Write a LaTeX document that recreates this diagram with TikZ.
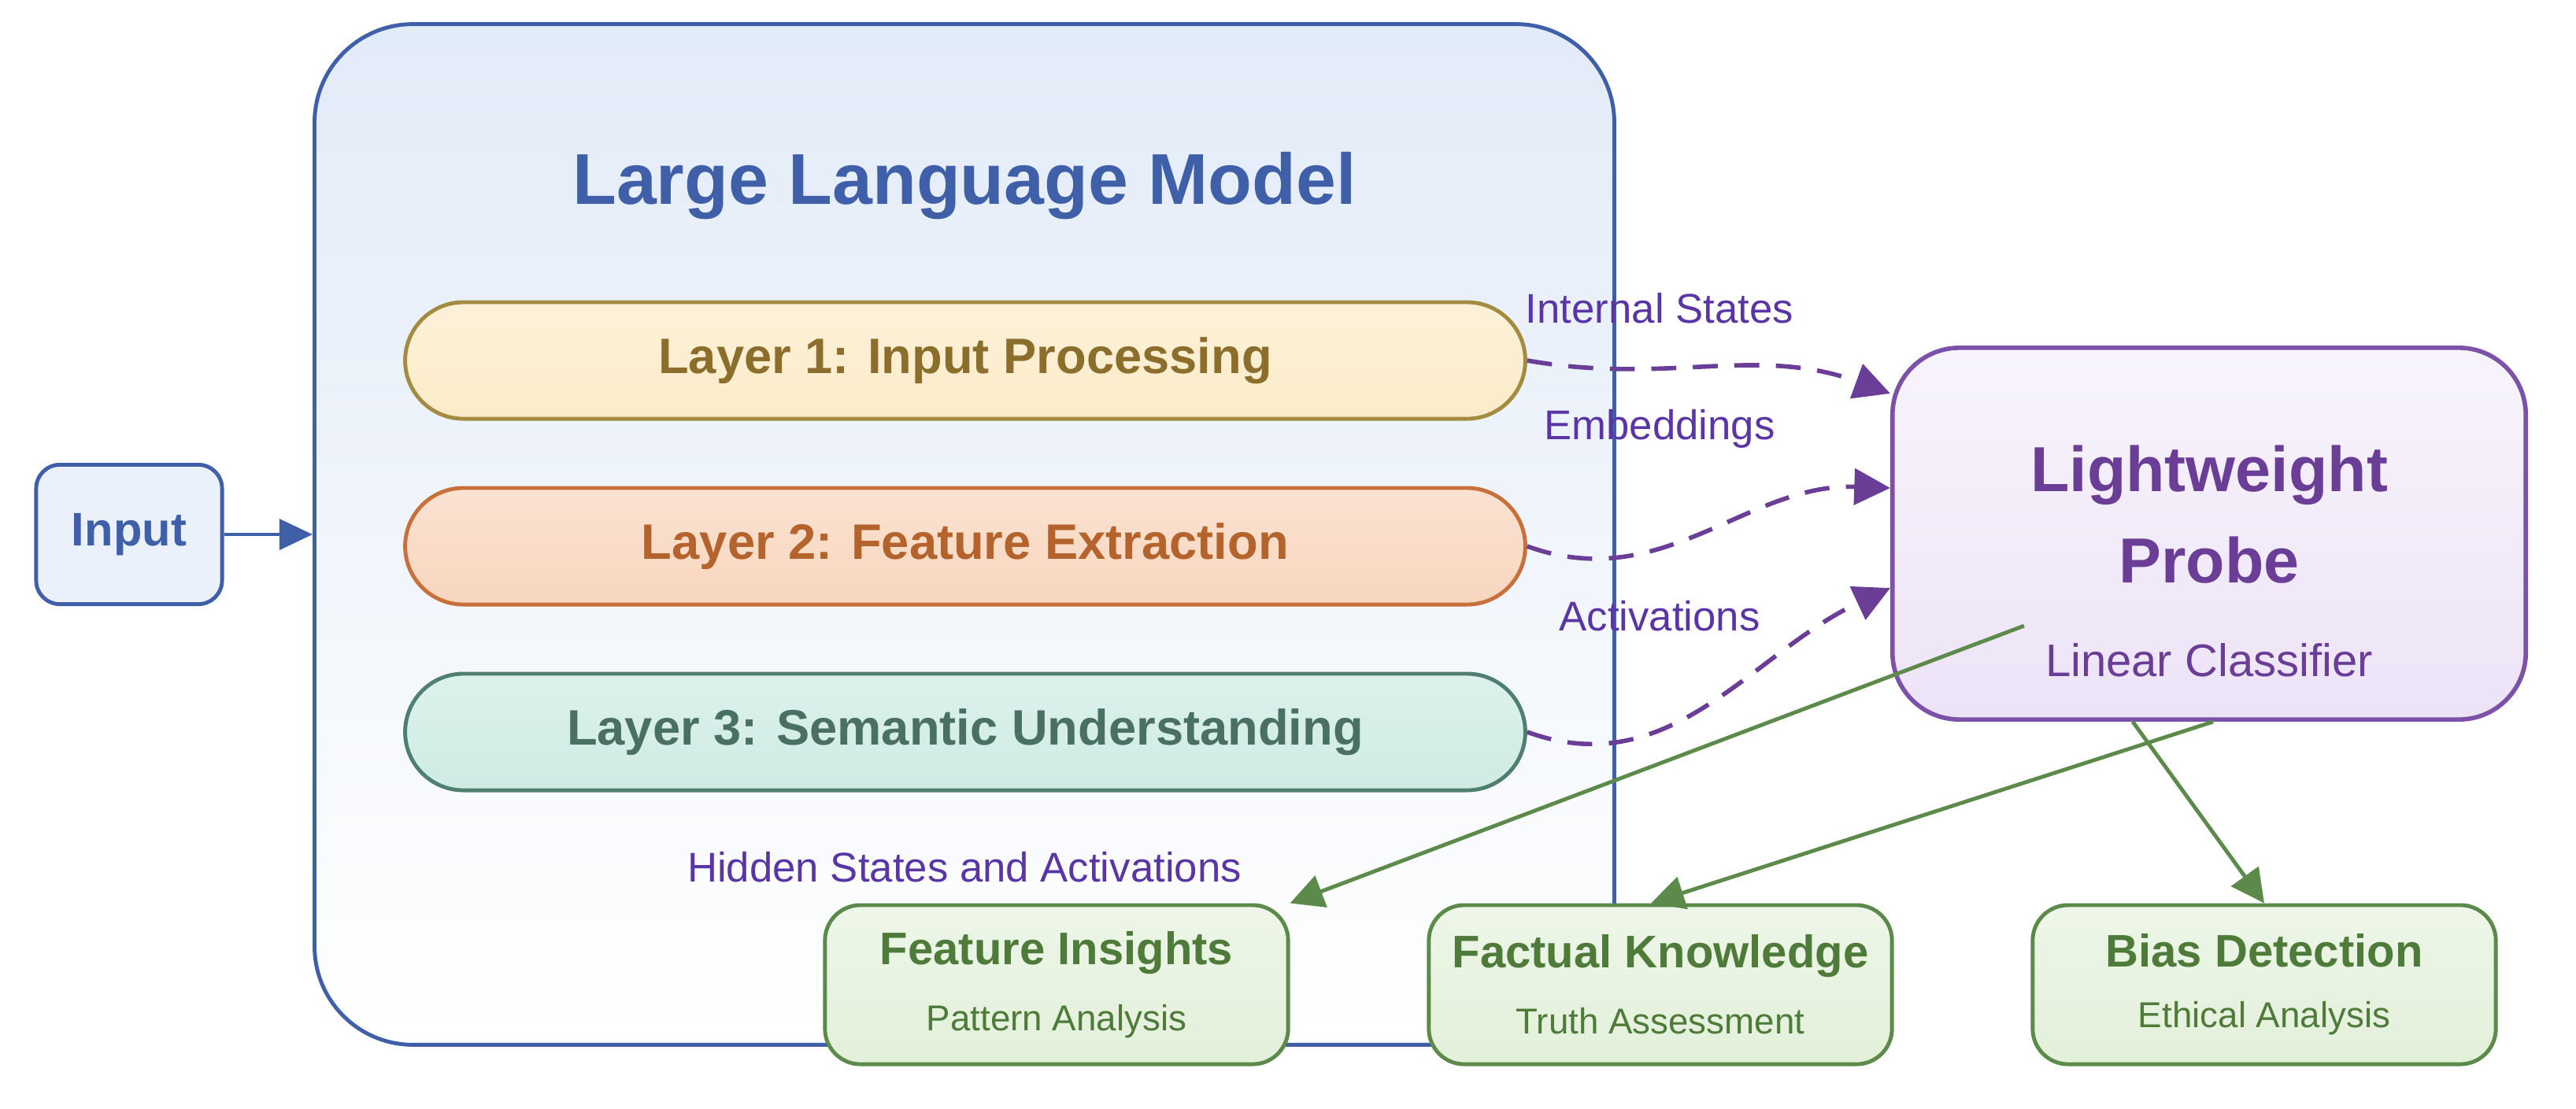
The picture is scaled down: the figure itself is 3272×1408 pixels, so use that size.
\documentclass[tikz,border=0pt]{standalone}
\usepackage{fontspec}
\setmainfont{Liberation Sans}
\usetikzlibrary{arrows.meta,positioning}
\definecolor{llmB}{HTML}{3F5FA8}
\definecolor{llmF}{HTML}{E2EBF8}
\definecolor{l1F}{HTML}{FBEBC8}\definecolor{l1B}{HTML}{A38B40}\definecolor{l1T}{HTML}{8C6E2C}
\definecolor{l2F}{HTML}{F8D6BE}\definecolor{l2B}{HTML}{C8703C}\definecolor{l2T}{HTML}{B5632C}
\definecolor{l3F}{HTML}{CFEBE4}\definecolor{l3B}{HTML}{4F7F6E}\definecolor{l3T}{HTML}{4A7062}
\definecolor{pF}{HTML}{EDE3F7}\definecolor{pB}{HTML}{7C52A8}\definecolor{pT}{HTML}{6A3E96}
\definecolor{gF}{HTML}{E2F0D9}\definecolor{gB}{HTML}{5C8A4A}\definecolor{gT}{HTML}{4E7A3A}
\tikzset{
 layer/.style={rounded corners=0.74cm,minimum width=14.22cm,minimum height=1.48cm,inner sep=0,line width=1.4pt,font=\fontsize{18}{21}\selectfont\bfseries},
 res/.style={rounded corners=0.45cm,minimum width=5.88cm,minimum height=2.02cm,inner sep=0,line width=1.4pt,draw=gB,top color=gF!60!white,bottom color=gF,align=center,text=gT},
 probearr/.style={draw=pT,line width=1.6pt,dash pattern=on 9pt off 6pt,-{Triangle[length=13pt,width=13pt]}},
 garr/.style={draw=gB,line width=1.4pt,-{Triangle[length=12pt,width=12pt]}},
 lab/.style={text=pT!85!blue,font=\fontsize{15}{18}\selectfont},
}
\begin{document}
\begin{tikzpicture}[x=0.01cm,y=-0.01cm]
\useasboundingbox[fill=white] (0,0) rectangle (3272,1408);
\node[draw=llmB,line width=1.4pt,rounded corners=1.25cm,minimum width=16.5cm,minimum height=12.96cm,inner sep=0,top color=llmF,bottom color=white] (llm) at (1225,679) {};
\node[text=llmB,font=\fontsize{26}{30}\selectfont\bfseries] (title) at (1225,236) {Large Language Model};
\node[layer,draw=l1B,top color=l1F!70!white,bottom color=l1F,text=l1T] (L1) at (1226,458) {Layer 1: Input Processing};
\node[layer,draw=l2B,top color=l2F!70!white,bottom color=l2F,text=l2T] (L2) at (1226,694) {Layer 2: Feature Extraction};
\node[layer,draw=l3B,top color=l3F!70!white,bottom color=l3F,text=l3T] (L3) at (1226,930) {Layer 3: Semantic Understanding};
\node[draw=llmB,line width=1.4pt,rounded corners=0.3cm,minimum width=2.36cm,minimum height=1.77cm,inner sep=0,fill=llmF!70!white,text=llmB,font=\fontsize{17}{20}\selectfont\bfseries] (in) at (164,679) {Input};
\draw[draw=llmB,line width=1.4pt,-{Triangle[length=12pt,width=11pt]}] (in.east) -- (llm.west);
\node[draw=pB,line width=1.6pt,rounded corners=0.85cm,minimum width=8.04cm,minimum height=4.72cm,inner sep=0,top color=pF!40!white,bottom color=pF] (P) at (2806,678) {};
\node[text=pT,font=\fontsize{23}{27}\selectfont\bfseries,align=center] (pt) at (2806,654) {Lightweight\\[6pt]Probe};
\node[text=pT,font=\fontsize{16.5}{19}\selectfont] (pc) at (2806,839) {Linear Classifier};
\draw[probearr] (L1.east) to[out=-10,in=160] ([yshift=1.78cm]P.west);
\draw[probearr] (L2.east) to[out=-20,in=178] ([yshift=0.58cm]P.west);
\draw[probearr] (L3.east) to[out=-20,in=205] ([yshift=-0.69cm]P.west);
\node[lab] (ist) at (2108,392) {Internal States};
\node[lab] (emb) at (2108,545) {Embeddings};
\node[lab] (act) at (2108,783) {Activations};
\node[lab] (hid) at (1225,1102) {Hidden States and Activations};
\node[res] (FI) at (1342,1251) {\fontsize{16.5}{19}\selectfont\bfseries Feature Insights\\[10pt]\fontsize{13}{15}\selectfont Pattern Analysis};
\node[res] (FK) at (2109,1251) {\fontsize{16.5}{19}\selectfont\bfseries Factual Knowledge\\[10pt]\fontsize{13}{15}\selectfont Truth Assessment};
\node[res] (BD) at (2876,1251) {\fontsize{16.5}{19}\selectfont\bfseries Bias Detection\\[10pt]\fontsize{13}{15}\selectfont Ethical Analysis};
\draw[garr] ([xshift=-2.35cm,yshift=-1.17cm]P.center) -- (FI.north east);
\draw[garr] ([xshift=0.05cm]P.south) -- ([xshift=-0.12cm]FK.north);
\draw[garr] ([xshift=-0.97cm]P.south) -- (BD.north);
\end{tikzpicture}
\end{document}
